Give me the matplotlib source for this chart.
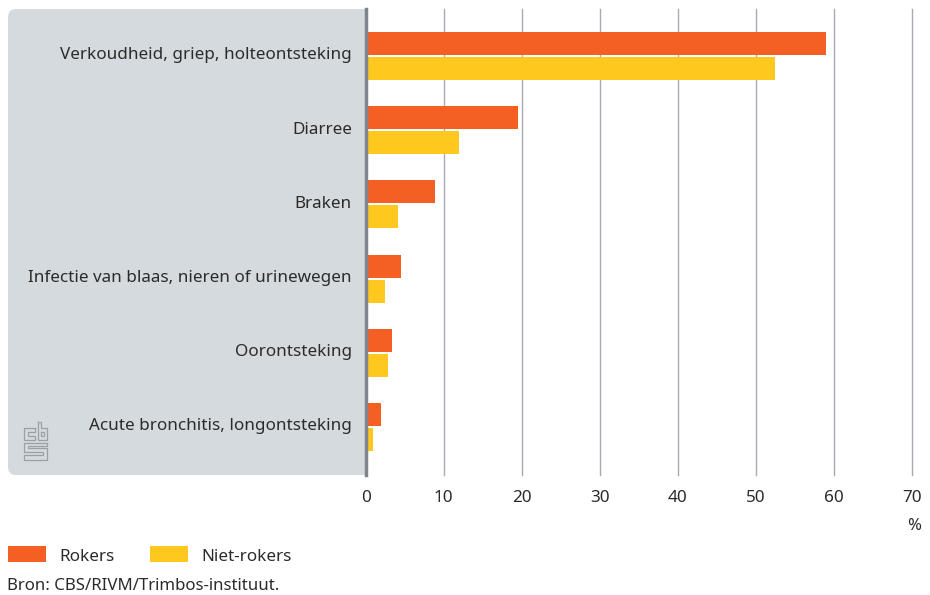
import matplotlib
matplotlib.use("Agg")
import matplotlib.pyplot as plt
from matplotlib.patches import PathPatch
from matplotlib.path import Path
from matplotlib.transforms import ScaledTranslation

plt.rcParams['font.family'] = ['Noto Sans', 'DejaVu Sans']

categories = ["Verkoudheid, griep, holteontsteking", "Diarree", "Braken",
              "Infectie van blaas, nieren of urinewegen", "Oorontsteking",
              "Acute bronchitis, longontsteking"]
rokers = [59, 19.5, 8.9, 4.5, 3.4, 1.9]
niet_rokers = [52.5, 11.9, 4.2, 2.5, 2.9, 0.9]
xticks = [0, 10, 20, 30, 40, 50, 60, 70]

ORANGE = '#f46024'
YELLOW = '#ffc81e'
PANEL = '#d5dade'
TEXT = '#2b2b2b'
W, H = 930, 595

fig = plt.figure(figsize=(W / 100, H / 100), dpi=100)

# overlay in pixel coordinates for panel, logo and legend
bg = fig.add_axes([0, 0, 1, 1])
bg.set_xlim(0, W)
bg.set_ylim(H, 0)
bg.axis('off')

# panel with rounded left corners only
L, R, T, B, r = 8, 365, 9, 475, 8
verts = [(R, T), (L + r, T), (L, T), (L, T + r), (L, B - r), (L, B), (L + r, B), (R, B), (R, T)]
codes = [Path.MOVETO, Path.LINETO, Path.CURVE3, Path.CURVE3, Path.LINETO, Path.CURVE3, Path.CURVE3,
         Path.LINETO, Path.CLOSEPOLY]
bg.add_patch(PathPatch(Path(verts, codes), facecolor=PANEL, edgecolor='none'))

# cbs logo
logo = dict(color='#9aa1a6', lw=0.9, solid_joinstyle='miter')
bg.plot([35, 24, 24, 35, 35, 28, 28, 35, 35], [428, 428, 440, 440, 436, 436, 432, 432, 428], **logo)
bg.plot([38, 38, 47, 47, 41, 41, 38], [422, 440, 440, 428, 428, 422, 422], **logo)
bg.plot([41, 41, 44, 44, 41], [432, 436, 436, 432, 432], **logo)
bg.plot([47, 24, 24, 43, 43, 24, 24, 47, 47, 28, 28, 47, 47],
        [443, 443, 452, 452, 455, 455, 460, 460, 448, 448, 446, 446, 443], **logo)

# main axes: 0..70 over 366..912 px
ax = fig.add_axes([365.7 / W, 1 - B / H, (912 - 365.7) / W, (B - T) / H])
ax.patch.set_alpha(0)
ax.set_xlim(0, 70)
ax.set_ylim(5.647, -0.633)
ax.set_xticks(xticks)
ax.set_yticks(range(len(categories)))
ax.set_yticklabels(categories, fontsize=12.3, color=TEXT)
ax.tick_params(axis='y', length=0, pad=10)
ax.tick_params(axis='x', length=0, pad=11, labelsize=12.3, labelcolor=TEXT)
for lab in ax.get_yticklabels():
    lab.set_transform(lab.get_transform() + ScaledTranslation(0, 2.5 / 100, fig.dpi_scale_trans))
ax.set_axisbelow(True)
ax.grid(axis='x', color='#a9abb3', lw=1.0)
ax.grid(axis='y', visible=False)
for line in ax.get_xgridlines():
    line.set_clip_on(False)
for s in ax.spines.values():
    s.set_visible(False)

ys = list(range(len(categories)))
ax.barh([y - 0.168 for y in ys], rokers, height=0.31, color=ORANGE, zorder=3)
ax.barh([y + 0.168 for y in ys], niet_rokers, height=0.31, color=YELLOW, zorder=3)
ax.axvline(0, color='#7f858d', lw=2.5, zorder=4, clip_on=False)

# % unit, legend, source
bg.text(921, 526, "%", ha='right', va='center', fontsize=12, color=TEXT)
bg.add_patch(plt.Rectangle((8, 546), 38, 16, facecolor=ORANGE, edgecolor='none'))
bg.add_patch(plt.Rectangle((150, 546), 38, 16, facecolor=YELLOW, edgecolor='none'))
bg.text(59, 557, "Rokers", va='center', fontsize=12.3, color=TEXT)
bg.text(201, 557, "Niet-rokers", va='center', fontsize=12.3, color=TEXT)
bg.text(7, 586, "Bron: CBS/RIVM/Trimbos-instituut.", va='center', fontsize=12.1, color=TEXT)

fig.savefig("out.png", dpi=100)
